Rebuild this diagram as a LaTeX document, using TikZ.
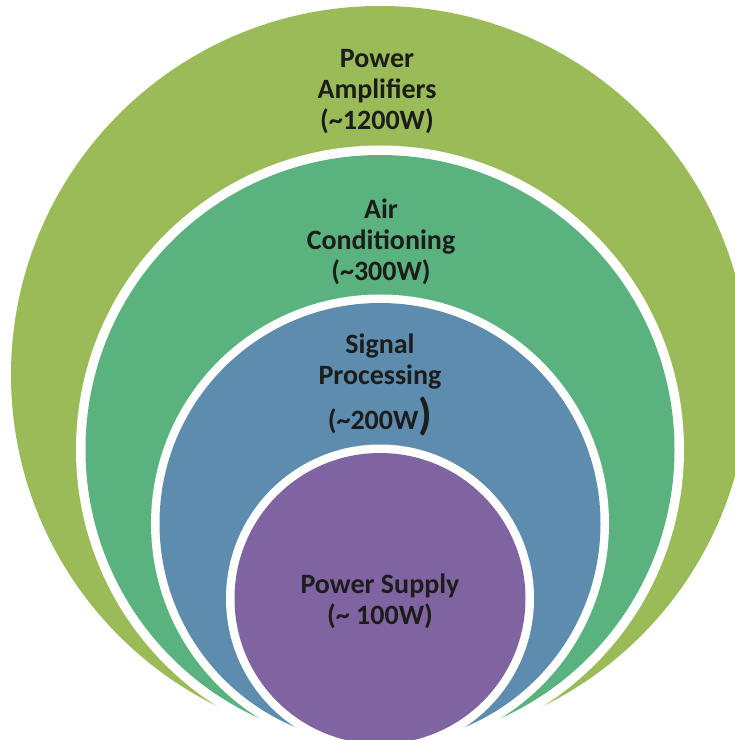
\documentclass[tikz,border=0pt]{standalone}
\usepackage{fontspec}
\setmainfont{Carlito}
\definecolor{cgreen}{HTML}{9BBB59}
\definecolor{cteal}{HTML}{5AB27E}
\definecolor{cblue}{HTML}{5E8CAE}
\definecolor{cpurple}{HTML}{8064A2}
\definecolor{ctext}{HTML}{1C1C1C}
\begin{document}
\begin{tikzpicture}[x=1pt,y=1pt,
  lbl/.style={align=center, font=\bfseries\fontsize{28}{31}\selectfont, text=ctext, inner sep=0pt},
  ring/.style={fill=white}]
\useasboundingbox (0,0) rectangle (735,740);
\clip (0,0) rectangle (735,740);
\fill[cgreen] (380,365) circle (369);
\fill[ring] (380,290.5) circle (304);
\fill[cteal] (380,290.5) circle (294.5);
\fill[ring] (380,216.5) circle (229);
\fill[cblue] (380,216.5) circle (220.5);
\fill[ring] (380,141.5) circle (154);
\fill[cpurple] (380,141.5) circle (145.5);
\node[lbl] (amp) at (377,648) {Power\\Amplifiers\\(\textasciitilde1200W)};
\node[lbl] (air) at (381,498) {Air\\Conditioning\\(\textasciitilde300W)};
\node[lbl] (sig) at (380,355) {Signal\\Processing\\[7pt](\textasciitilde200W{\fontsize{44}{44}\selectfont)}};
\node[lbl] (sup) at (380,139) {Power Supply\\(\textasciitilde\ 100W)};
\end{tikzpicture}
\end{document}
